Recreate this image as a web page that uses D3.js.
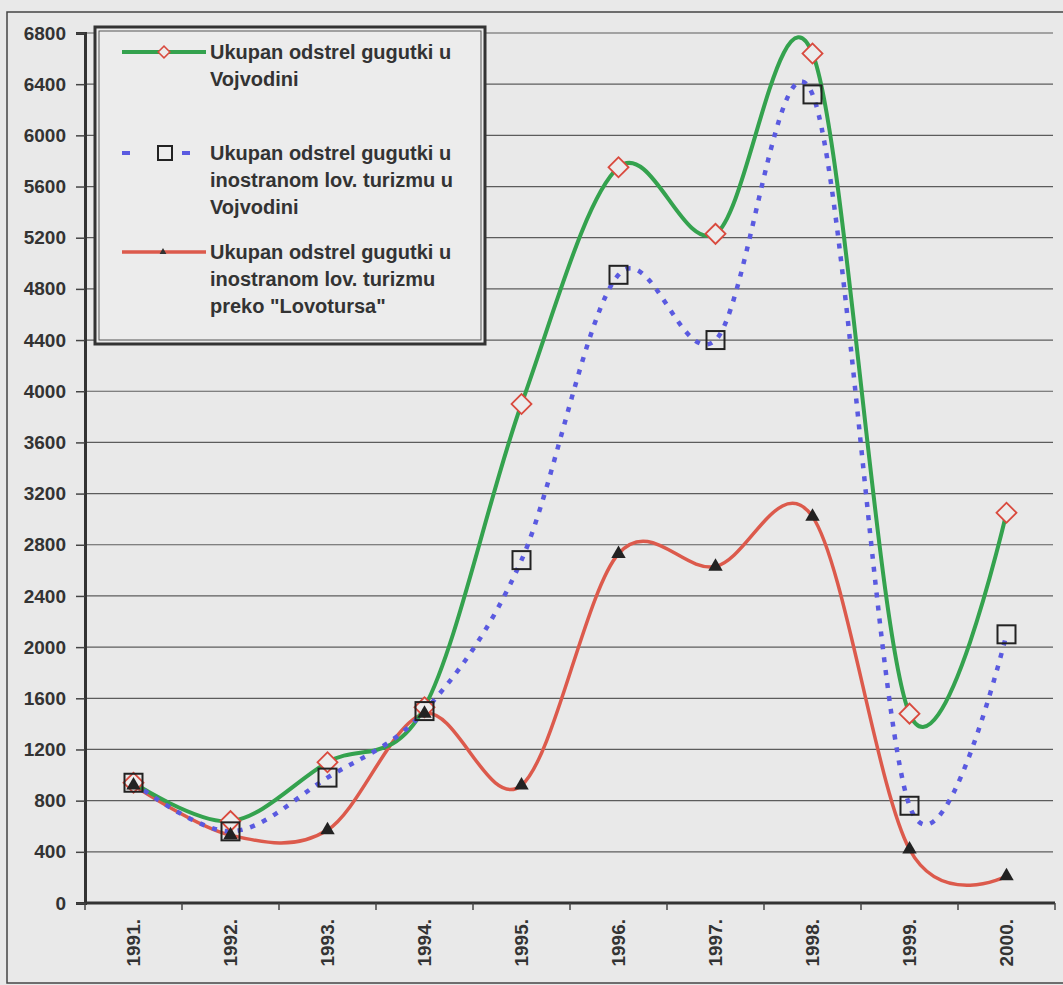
<!DOCTYPE html>
<html>
<head>
<meta charset="utf-8">
<script src="https://cdn.jsdelivr.net/npm/d3@7"></script>
<style>
  html, body { margin: 0; padding: 0; background: #e9e9e9; }
  svg { display: block; }
  text { font-family: "Liberation Sans", Arial, sans-serif; fill: #333; }
</style>
</head>
<body>
<svg id="chart" width="1063" height="985"></svg>
<script>
// Shooting of collared doves per year
const years = ["1991.", "1992.", "1993.", "1994.", "1995.", "1996.", "1997.", "1998.", "1999.", "2000."];
const totalVojvodina = [940, 640, 1100, 1530, 3900, 5750, 5230, 6640, 1480, 3050];
const foreignTourism = [940, 560, 980, 1500, 2680, 4910, 4400, 6320, 760, 2100];
const viaLovotours   = [920, 530, 570, 1480, 920, 2730, 2630, 3020, 420, 210];
const yTicks = [0, 400, 800, 1200, 1600, 2000, 2400, 2800, 3200, 3600, 4000, 4400, 4800, 5200, 5600, 6000, 6400, 6800];

const legendLabels = [
  ["Ukupan odstrel gugutki u", "Vojvodini"],
  ["Ukupan odstrel gugutki u", "inostranom lov. turizmu u", "Vojvodini"],
  ["Ukupan odstrel gugutki u", "inostranom lov. turizmu", "preko \"Lovotursa\""]
];

const svg = d3.select("#chart");
const W = 1063, H = 985;
const plotLeft = 85, plotRight = 1055, plotTop = 33, plotBottom = 903;

const x = d3.scalePoint().domain(years).range([plotLeft, plotRight]).padding(0.5);
const xBand = d3.scaleBand().domain(years).range([plotLeft, plotRight]).padding(0);
const y = d3.scaleLinear().domain([0, 6800]).range([plotBottom, plotTop]);

// outer frame
svg.append("rect").attr("x", 7).attr("y", 12).attr("width", W + 10).attr("height", 971)
  .attr("fill", "none").attr("stroke", "#444").attr("stroke-width", 1.5);

// horizontal gridlines
svg.append("g").selectAll("line").data(yTicks.filter(d => d > 0)).join("line")
  .attr("x1", plotLeft).attr("x2", plotRight - 2)
  .attr("y1", d => y(d)).attr("y2", d => y(d))
  .attr("stroke", "#5c5c5c").attr("stroke-width", 1.2);

// y axis
const yAxis = svg.append("g").attr("transform", `translate(${plotLeft},0)`)
  .call(d3.axisLeft(y).tickValues(yTicks).tickSize(9).tickPadding(10).tickFormat(d3.format("d")));
yAxis.select(".domain").attr("stroke", "#333").attr("stroke-width", 3);
yAxis.selectAll(".tick line").attr("stroke", "#444").attr("stroke-width", 1.5);
yAxis.selectAll("text").attr("font-size", 19).attr("font-weight", "bold").attr("fill", "#333")
  .style("font-family", "'Liberation Sans', Arial, sans-serif");

// x axis baseline
svg.append("line").attr("x1", plotLeft).attr("x2", plotRight).attr("y1", plotBottom).attr("y2", plotBottom)
  .attr("stroke", "#333").attr("stroke-width", 3);
// ticks between categories
const bounds = years.map(d => xBand(d)).concat([xBand.range()[1]]);
svg.append("g").selectAll("line").data(bounds).join("line")
  .attr("x1", d => d).attr("x2", d => d).attr("y1", plotBottom).attr("y2", plotBottom + 7)
  .attr("stroke", "#444").attr("stroke-width", 1.5);
// rotated year labels
svg.append("g").selectAll("text").data(years).join("text")
  .attr("transform", d => `translate(${x(d)},${plotBottom + 16}) rotate(-90)`)
  .attr("text-anchor", "end").attr("dy", "0.36em")
  .attr("font-size", 19).attr("font-weight", "bold")
  .text(d => d);

// series
const curve = d3.curveCatmullRom.alpha(0);
const line = d3.line().x((d, i) => x(years[i])).y(d => y(d)).curve(curve);

const cGreen = "#34a24e", cBlue = "#5a5ae0", cRed = "#dc5a4c";

svg.append("path").datum(viaLovotours).attr("d", line)
  .attr("fill", "none").attr("stroke", cRed).attr("stroke-width", 3.5);
svg.append("path").datum(totalVojvodina).attr("d", line)
  .attr("fill", "none").attr("stroke", cGreen).attr("stroke-width", 4);
svg.append("path").datum(foreignTourism).attr("d", line)
  .attr("fill", "none").attr("stroke", cBlue).attr("stroke-width", 4.5)
  .attr("stroke-dasharray", "5,8");

// markers
const diamond = d3.symbol().type(d3.symbolSquare).size(200);
svg.append("g").selectAll("path").data(totalVojvodina).join("path")
  .attr("d", diamond)
  .attr("transform", (d, i) => `translate(${x(years[i])},${y(d)}) rotate(45)`)
  .attr("fill", "#ececec").attr("stroke", "#d94a3e").attr("stroke-width", 1.8);

svg.append("g").selectAll("rect").data(foreignTourism).join("rect")
  .attr("x", (d, i) => x(years[i]) - 9).attr("y", d => y(d) - 9)
  .attr("width", 18).attr("height", 18)
  .attr("fill", "none").attr("stroke", "#222").attr("stroke-width", 2);

const tri = d3.symbol().type(d3.symbolTriangle).size(90);
svg.append("g").selectAll("path").data(viaLovotours).join("path")
  .attr("d", tri)
  .attr("transform", (d, i) => `translate(${x(years[i])},${y(d)})`)
  .attr("fill", "#222");

// legend
const lg = svg.append("g");
lg.append("rect").attr("x", 95).attr("y", 27).attr("width", 390).attr("height", 317)
  .attr("fill", "#ececec").attr("stroke", "#333").attr("stroke-width", 3);
lg.append("rect").attr("x", 99).attr("y", 31).attr("width", 382).attr("height", 309)
  .attr("fill", "none").attr("stroke", "#555").attr("stroke-width", 1);

const entryY = [52, 153, 252];
const textX = 210, lineH = 27;
legendLabels.forEach((lines, k) => {
  const t = lg.append("text").attr("x", textX).attr("y", entryY[k])
    .attr("font-size", 20).attr("font-weight", "bold");
  lines.forEach((s, j) => t.append("tspan").attr("x", textX).attr("dy", j === 0 ? "0.36em" : lineH).text(s));
});
// green sample
lg.append("line").attr("x1", 122).attr("x2", 206).attr("y1", entryY[0]).attr("y2", entryY[0])
  .attr("stroke", cGreen).attr("stroke-width", 4);
lg.append("path").attr("d", d3.symbol().type(d3.symbolSquare).size(70))
  .attr("transform", `translate(164,${entryY[0]}) rotate(45)`)
  .attr("fill", "#ececec").attr("stroke", "#d94a3e").attr("stroke-width", 1.5);
// blue sample
lg.append("line").attr("x1", 122).attr("x2", 206).attr("y1", entryY[1]).attr("y2", entryY[1])
  .attr("stroke", cBlue).attr("stroke-width", 4).attr("stroke-dasharray", "8,52,8,52");
lg.append("rect").attr("x", 158).attr("y", entryY[1] - 7).attr("width", 14).attr("height", 14)
  .attr("fill", "none").attr("stroke", "#222").attr("stroke-width", 2);
// red sample
lg.append("line").attr("x1", 122).attr("x2", 206).attr("y1", entryY[2]).attr("y2", entryY[2])
  .attr("stroke", cRed).attr("stroke-width", 3.5);
lg.append("path").attr("d", d3.symbol().type(d3.symbolTriangle).size(20))
  .attr("transform", `translate(163,${entryY[2]})`).attr("fill", "#333");
</script>
</body>
</html>
